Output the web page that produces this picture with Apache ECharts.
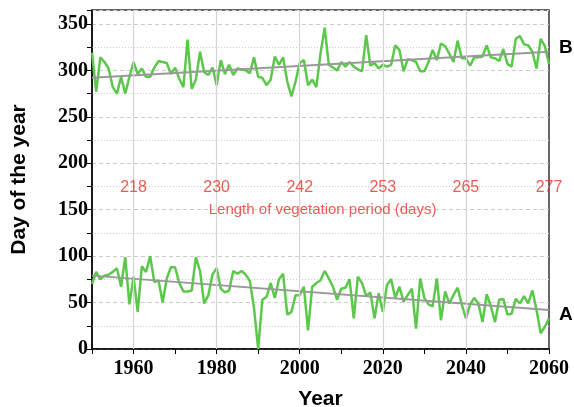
<!DOCTYPE html>
<html>
<head>
<meta charset="utf-8">
<script src="https://cdn.jsdelivr.net/npm/echarts@6/dist/echarts.min.js"></script>
<style>
  html, body { margin: 0; padding: 0; background: #fff; }
  #chart { width: 574px; height: 407px; }
</style>
</head>
<body>
<div id="chart"></div>
<script>
// yearly values, 1950..2060
const seriesB = [
  319, 277, 314, 309, 302, 282, 275, 293, 275, 293,
  309, 296, 302, 293, 293, 303, 310, 309, 308, 296,
  303, 291, 282, 333, 280, 290, 320, 298, 295, 303,
  284, 311, 296, 306, 295, 302, 301, 300, 297, 314,
  293, 292, 284, 290, 315, 306, 314, 288, 272, 288,
  308, 311, 284, 290, 282, 318, 346, 306, 303, 300,
  309, 304, 309, 304, 301, 299, 338, 305, 308, 302,
  306, 304, 306, 327, 322, 299, 312, 311, 309, 299,
  299, 309, 322, 311, 329, 326, 318, 309, 332, 313,
  313, 305, 314, 314, 315, 327, 314, 313, 310, 323,
  307, 304, 334, 337, 328, 327, 320, 302, 334, 326, 307
];
const seriesA = [
  70, 83, 75, 79, 80, 83, 87, 67, 99, 48,
  78, 40, 89, 83, 100, 72, 74, 50, 76, 88,
  88, 71, 62, 62, 63, 99, 84, 49, 58, 80,
  87, 65, 61, 63, 84, 81, 84, 80, 73, 44,
  0, 53, 56, 71, 55, 75, 81, 37, 40, 58,
  58, 67, 20, 67, 71, 74, 84, 76, 67, 53,
  65, 66, 75, 33, 78, 71, 57, 61, 33, 60,
  40, 69, 75, 55, 67, 51, 58, 65, 22, 76,
  55, 48, 46, 76, 31, 62, 49, 58, 66, 48,
  33, 48, 55, 49, 29, 59, 46, 29, 53, 54,
  37, 38, 54, 49, 57, 49, 63, 42, 17, 24, 33
];
const trendB = [[1950, 292], [2060, 320]];
const trendA = [[1950, 79], [2060, 42]];

// vegetation period length labels
const periodYears = [1960, 1980, 2000, 2020, 2040, 2060];
const periodDays = [218, 230, 242, 253, 265, 277];
const periodLabelY = 174;

const gridYears = [1960, 1980, 2000, 2020, 2040];

const firstYear = 1950;
const pairs = arr => arr.map((v, i) => [firstYear + i, v]);

const green = '#5cc84b';
const grey = '#999999';
const red = '#e3342b';
const serif = "'Liberation Serif', 'DejaVu Serif', serif";
const sans = "'Liberation Sans', Arial, sans-serif";

const chart = echarts.init(document.getElementById('chart'));

chart.setOption({
  animation: false,
  grid: {
    left: 92, right: 25, top: 10, bottom: 58,
    outerBoundsMode: 'none',
    show: true, borderColor: '#333', borderWidth: 1.5
  },
  xAxis: {
    type: 'value',
    min: 1950, max: 2060, interval: 10,
    name: 'Year',
    nameLocation: 'middle',
    nameGap: 40,
    nameTextStyle: { fontFamily: sans, fontWeight: 'bold', fontSize: 21, color: '#000' },
    axisLine: { lineStyle: { color: '#000', width: 1.5 } },
    axisTick: { length: 5, lineStyle: { color: '#000' } },
    axisLabel: {
      fontFamily: serif, fontWeight: 'bold', fontSize: 20, color: '#000', margin: 10,
      formatter: v => (v % 20 === 0 ? String(v) : '')
    },
    splitLine: { show: false }
  },
  yAxis: {
    type: 'value',
    min: 0, max: 365, interval: 50,
    name: 'Day of the year',
    nameLocation: 'middle',
    nameGap: 62,
    nameTextStyle: { fontFamily: sans, fontWeight: 'bold', fontSize: 21, color: '#000' },
    axisLine: { show: true, lineStyle: { color: '#000', width: 1.5 } },
    axisTick: { length: 5, lineStyle: { color: '#000' } },
    minorTick: { show: true, splitNumber: 2, length: 5, lineStyle: { color: '#000' } },
    axisLabel: {
      fontFamily: serif, fontWeight: 'bold', fontSize: 20, color: '#000', margin: 4,
      showMaxLabel: false
    },
    splitLine: { lineStyle: { color: '#cccccc', type: [4, 3] } },
    minorSplitLine: { show: true, lineStyle: { color: '#cccccc', type: [1, 2] } }
  },
  series: [
    {
      type: 'line',
      data: pairs(seriesB),
      showSymbol: false,
      lineStyle: { color: green, width: 2.5 },
      z: 3,
      markLine: {
        silent: true,
        symbol: 'none',
        label: { show: false },
        lineStyle: { color: '#d4d4d4', type: 'solid', width: 1.2 },
        data: gridYears.map(y => ({ xAxis: y }))
      }
    },
    {
      type: 'line',
      data: pairs(seriesA),
      showSymbol: false,
      lineStyle: { color: green, width: 2.5 },
      z: 3
    },
    {
      type: 'line',
      data: trendB,
      showSymbol: false,
      lineStyle: { color: grey, width: 2 },
      z: 4,
      endLabel: {
        show: true, formatter: 'B', distance: 10, offset: [0, -4],
        fontFamily: sans, fontWeight: 'bold', fontSize: 19, color: '#000'
      }
    },
    {
      type: 'line',
      data: trendA,
      showSymbol: false,
      lineStyle: { color: grey, width: 2 },
      z: 4,
      endLabel: {
        show: true, formatter: 'A', distance: 10, offset: [0, 5],
        fontFamily: sans, fontWeight: 'bold', fontSize: 19, color: '#000'
      }
    },
    {
      type: 'scatter',
      symbolSize: 1,
      itemStyle: { color: 'rgba(0,0,0,0)' },
      z: 5,
      data: periodYears.map((y, i) => [y, periodLabelY, periodDays[i]]),
      label: {
        show: true, position: 'inside',
        formatter: p => String(p.value[2]),
        fontFamily: sans, fontSize: 16, color: red, textBorderWidth: 0
      }
    },
    {
      type: 'scatter',
      symbolSize: 1,
      itemStyle: { color: 'rgba(0,0,0,0)' },
      z: 5,
      data: [[2005.5, 149.5]],
      label: {
        show: true, position: 'inside',
        formatter: 'Length of vegetation period (days)',
        fontFamily: sans, fontSize: 15, color: red, textBorderWidth: 0
      }
    }
  ]
});
</script>
</body>
</html>
